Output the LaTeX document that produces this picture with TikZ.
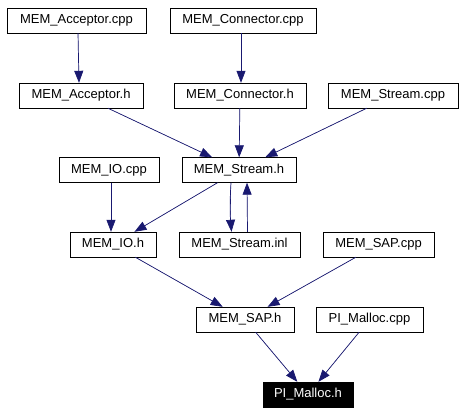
\documentclass[tikz,border=0pt]{standalone}
\usepackage{fontspec}
\setmainfont{Liberation Sans}
\usetikzlibrary{arrows.meta}
\definecolor{edgeblue}{RGB}{25,25,112}

\tikzset{
  file/.style={draw, rectangle, minimum height=25pt, inner sep=0pt,
    font=\fontsize{13}{15}\selectfont},
  this/.style={file, fill=black, text=white},
  dep/.style={draw=edgeblue, line width=0.7pt,
    -{Triangle[length=12pt,width=9pt]}, fill=edgeblue}
}

\begin{document}
\begin{tikzpicture}[x=1pt,y=-1pt]
  \useasboundingbox (0,0) rectangle (463,413);

  \node[file, minimum width=139pt] (acccpp) at (76.5,20.5) {MEM\_Acceptor.cpp};
  \node[file, minimum width=146pt] (concpp) at (243,20.5) {MEM\_Connector.cpp};

  \node[file, minimum width=124pt] (acch) at (81,95.5) {MEM\_Acceptor.h};
  \node[file, minimum width=132pt] (conh) at (240,95.5) {MEM\_Connector.h};
  \node[file, minimum width=130pt] (strcpp) at (393,95.5) {MEM\_Stream.cpp};

  \node[file, minimum width=100pt] (iocpp) at (109,170) {MEM\_IO.cpp};
  \node[file, minimum width=114pt] (strh) at (239,170) {MEM\_Stream.h};

  \node[file, minimum width=86pt] (ioh) at (113,244.5) {MEM\_IO.h};
  \node[file, minimum width=121pt] (strinl) at (239.5,244.5) {MEM\_Stream.inl};
  \node[file, minimum width=111pt] (sapcpp) at (378.5,244.5) {MEM\_SAP.cpp};

  \node[file, minimum width=98pt] (saph) at (245,319.5) {MEM\_SAP.h};
  \node[file, minimum width=107pt] (pmcpp) at (369.5,319.5) {PI\_Malloc.cpp};

  \node[this, minimum width=90pt] (pmh) at (308,394.5) {PI\_Malloc.h};

  \draw[dep] ([xshift=1.5pt]acccpp.south) -- ([xshift=-2pt]acch.north);
  \draw[dep] ([xshift=-2pt]concpp.south) -- ([xshift=1pt]conh.north);

  \draw[dep] (acch) -- (strh);
  \draw[dep] (conh) -- (strh);
  \draw[dep] (strcpp) -- (strh);

  \draw[dep] ([xshift=2pt]iocpp.south) -- ([xshift=-2pt]ioh.north);
  \draw[dep] (strh) -- (ioh);
  \draw[dep] ([xshift=-8pt]strh.south) to[bend right=4] ([xshift=-8pt]strinl.north);
  \draw[dep] ([xshift=8pt]strinl.north) -- ([xshift=8pt]strh.south);

  \draw[dep] (ioh) -- (saph);
  \draw[dep] (sapcpp) -- (saph);

  \draw[dep] (saph) -- (pmh);
  \draw[dep] (pmcpp) -- (pmh);
\end{tikzpicture}
\end{document}
